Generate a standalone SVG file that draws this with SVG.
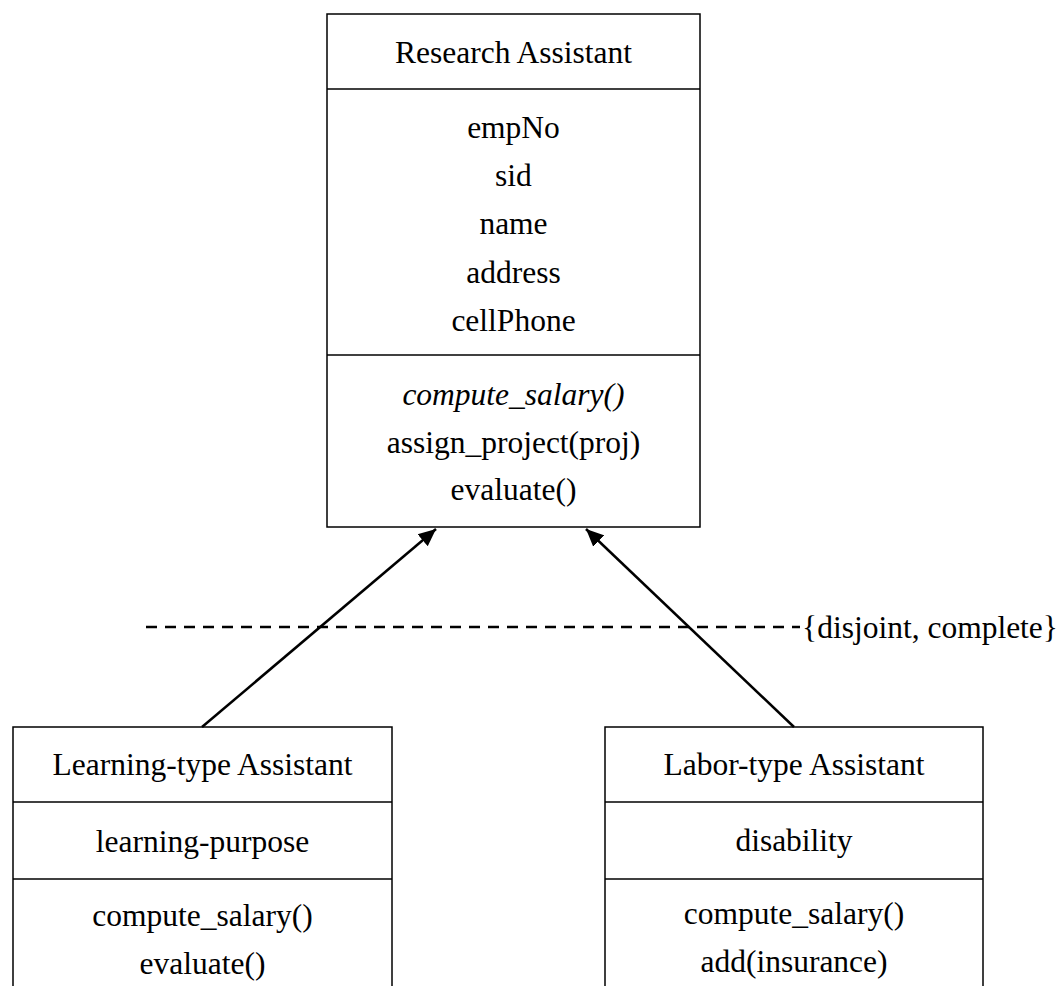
<svg xmlns="http://www.w3.org/2000/svg" width="1064" height="986" viewBox="0 0 1064 986">
  <style>
    .box { fill: #fff; stroke: #000; stroke-width: 1.5; }
    .div { stroke: #000; stroke-width: 1.5; }
    .t { font-family: "Liberation Serif", "Times New Roman", serif; font-size: 31.5px; fill: #000; text-anchor: middle; }
    .it { font-style: italic; }
    .conn { stroke: #000; stroke-width: 2.5; fill: none; }
    .dash { stroke: #000; stroke-width: 2.6; stroke-dasharray: 11 8; fill: none; }
  </style>
  <defs>
    <marker id="arrow" viewBox="0 0 10 10" refX="10" refY="5" markerWidth="7" markerHeight="7" orient="auto" markerUnits="strokeWidth">
      <path d="M0,0.5 L10,5 L0,9.5 z" fill="#000"/>
    </marker>
  </defs>
  <rect width="1064" height="986" fill="#fff"/>

  <g id="research-assistant">
    <rect class="box" x="327" y="14" width="373" height="513"/>
    <line class="div" x1="327" y1="89" x2="700" y2="89"/>
    <line class="div" x1="327" y1="355" x2="700" y2="355"/>
    <text class="t" x="513.5" y="63">Research Assistant</text>
    <text class="t" x="513.5" y="138">empNo</text>
    <text class="t" x="513.5" y="186">sid</text>
    <text class="t" x="513.5" y="234">name</text>
    <text class="t" x="513.5" y="283">address</text>
    <text class="t" x="513.5" y="331">cellPhone</text>
    <text class="t it" x="513.5" y="405">compute_salary()</text>
    <text class="t" x="513.5" y="453">assign_project(proj)</text>
    <text class="t" x="513.5" y="500">evaluate()</text>
  </g>

  <g id="learning-assistant">
    <rect class="box" x="13" y="727" width="379" height="290"/>
    <line class="div" x1="13" y1="802" x2="392" y2="802" stroke-width="2.2"/>
    <line class="div" x1="13" y1="879" x2="392" y2="879"/>
    <text class="t" x="202.5" y="775">Learning-type Assistant</text>
    <text class="t" x="202.5" y="852">learning-purpose</text>
    <text class="t" x="202.5" y="926">compute_salary()</text>
    <text class="t" x="202.5" y="974">evaluate()</text>
  </g>

  <g id="labor-assistant">
    <rect class="box" x="605" y="727" width="378" height="290"/>
    <line class="div" x1="605" y1="802" x2="983" y2="802"/>
    <line class="div" x1="605" y1="879" x2="983" y2="879"/>
    <text class="t" x="794" y="775">Labor-type Assistant</text>
    <text class="t" x="794" y="851">disability</text>
    <text class="t" x="794" y="924">compute_salary()</text>
    <text class="t" x="794" y="972">add(insurance)</text>
  </g>

  <g id="connectors">
    <line class="conn" x1="202" y1="727" x2="436" y2="529" marker-end="url(#arrow)"/>
    <line class="conn" x1="794" y1="727" x2="586" y2="529" marker-end="url(#arrow)"/>
    <line class="dash" x1="146" y1="627" x2="800" y2="627"/>
    <text class="t" x="930" y="638">{disjoint, complete}</text>
  </g>
</svg>
